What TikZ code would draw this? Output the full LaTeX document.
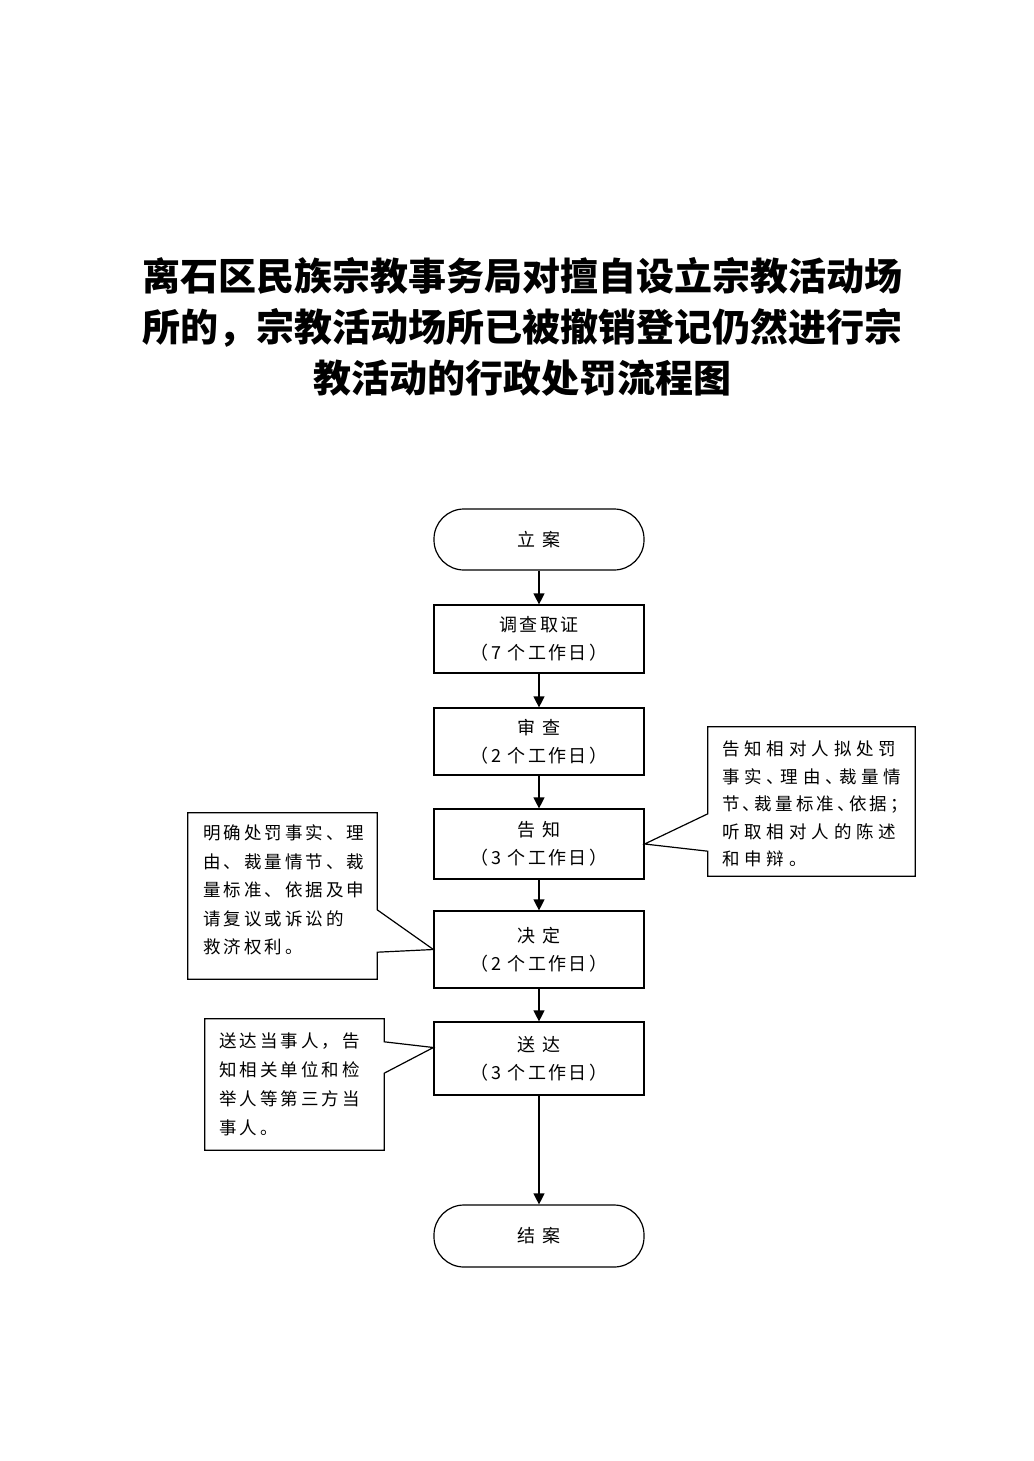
\documentclass[tikz,border=0pt]{standalone}
\usepackage{fontspec}
\newfontfamily\titlefont{Noto Sans CJK SC}
\newfontfamily\boxfont[LetterSpace=13]{Noto Sans CJK SC}
\newfontfamily\notefont[LetterSpace=17]{Noto Sans CJK SC}
\newfontfamily\widenotefont[LetterSpace=28]{Noto Sans CJK SC}
\usetikzlibrary{arrows.meta}

\tikzset{
  stepbox/.style={draw, line width=1.2pt, minimum width=210pt, align=center,
    inner sep=0pt, font={\boxfont\fontsize{18}{28}\selectfont}},
  endbox/.style={stepbox, rounded corners=30pt},
  notetext/.style={align=left, inner sep=0pt, anchor=west},
  callout/.style={draw, line width=1.2pt, line join=miter},
  arr/.style={-{Triangle[width=11pt,length=11pt]}, line width=1.2pt}
}
\newcommand{\halfpunct}[1]{{\addfontfeature{RawFeature=+halt}#1}}
\newcommand{\tightpunct}[1]{{\addfontfeature{RawFeature=+halt,LetterSpace=18}#1}}

\begin{document}
\begin{tikzpicture}[x=1pt, y=-1pt]
\useasboundingbox (0,0) rectangle (1033,1461);

\node[font={\titlefont\bfseries\fontsize{38}{51}\selectfont}, align=center] (title) at (522,327)
  {离石区民族宗教事务局对擅自设立宗教活动场\\所的，宗教活动场所已被撤销登记仍然进行宗\\教活动的行政处罚流程图};

% main flow
\node[endbox, minimum height=61pt] (lian) at (539,539.5) {立 案};
\node[stepbox, minimum height=68pt] (diaocha) at (539,639) {调查取证\\（7 个工作日）};
\node[stepbox, minimum height=67pt] (shencha) at (539,741.5) {审 查\\（2 个工作日）};
\node[stepbox, minimum height=70pt] (gaozhi) at (539,844) {告 知\\（3 个工作日）};
\node[stepbox, minimum height=77pt] (jueding) at (539,949.5) {决 定\\（2 个工作日）};
\node[stepbox, minimum height=73pt] (songda) at (539,1058.5) {送 达\\（3 个工作日）};
\node[endbox, minimum height=62pt] (jiean) at (539,1236) {结 案};

\foreach \from/\to in {lian/diaocha,diaocha/shencha,shencha/gaozhi,gaozhi/jueding,jueding/songda,songda/jiean}
{
	\draw[arr] (\from) -- (\to);
}

% notes
\node[draw=none, minimum width=207pt, minimum height=149pt, inner sep=0pt] (noteR) at (811.5,801.5) {};
\node[notetext, font={\widenotefont\fontsize{17.5}{27.5}\selectfont}] (textR) at (722,804)
  {告知相对人拟处罚\\\halfpunct{事实、理由、裁量情}\\\tightpunct{节、裁量标准、依据；}\\听取相对人的陈述\\和申辩。};
\draw[callout] (noteR.north west) -- (noteR.north east) -- (noteR.south east) -- (noteR.south west)
  -- ([yshift=25pt]noteR.south west) -- (gaozhi.east) -- ([yshift=-87pt]noteR.north west) -- cycle;

\node[draw=none, minimum width=189pt, minimum height=166pt, inner sep=0pt] (noteA) at (282.5,896) {};
\node[notetext, font={\notefont\fontsize{17.5}{28.5}\selectfont}] (textA) at (203,890)
  {明确处罚事实、理\\由、裁量情节、裁\\量标准、依据及申\\请复议或诉讼的\\救济权利。};
\draw[callout] (noteA.north west) -- (noteA.north east) -- ([yshift=-97pt]noteA.north east)
  -- (jueding.west) -- ([yshift=27pt]noteA.south east) -- (noteA.south east) -- (noteA.south west) -- cycle;

\node[draw=none, minimum width=179pt, minimum height=131pt, inner sep=0pt] (noteB) at (294.5,1084.5) {};
\node[notetext, font={\notefont\fontsize{17.5}{29}\selectfont}] (textB) at (219,1084)
  {送达当事人，告\\知相关单位和检\\举人等第三方当\\事人。};
\draw[callout] (noteB.north west) -- (noteB.north east) -- ([yshift=-23pt]noteB.north east)
  -- ([yshift=11pt]songda.west) -- ([yshift=77pt]noteB.south east) -- (noteB.south east) -- (noteB.south west) -- cycle;

\end{tikzpicture}
\end{document}
